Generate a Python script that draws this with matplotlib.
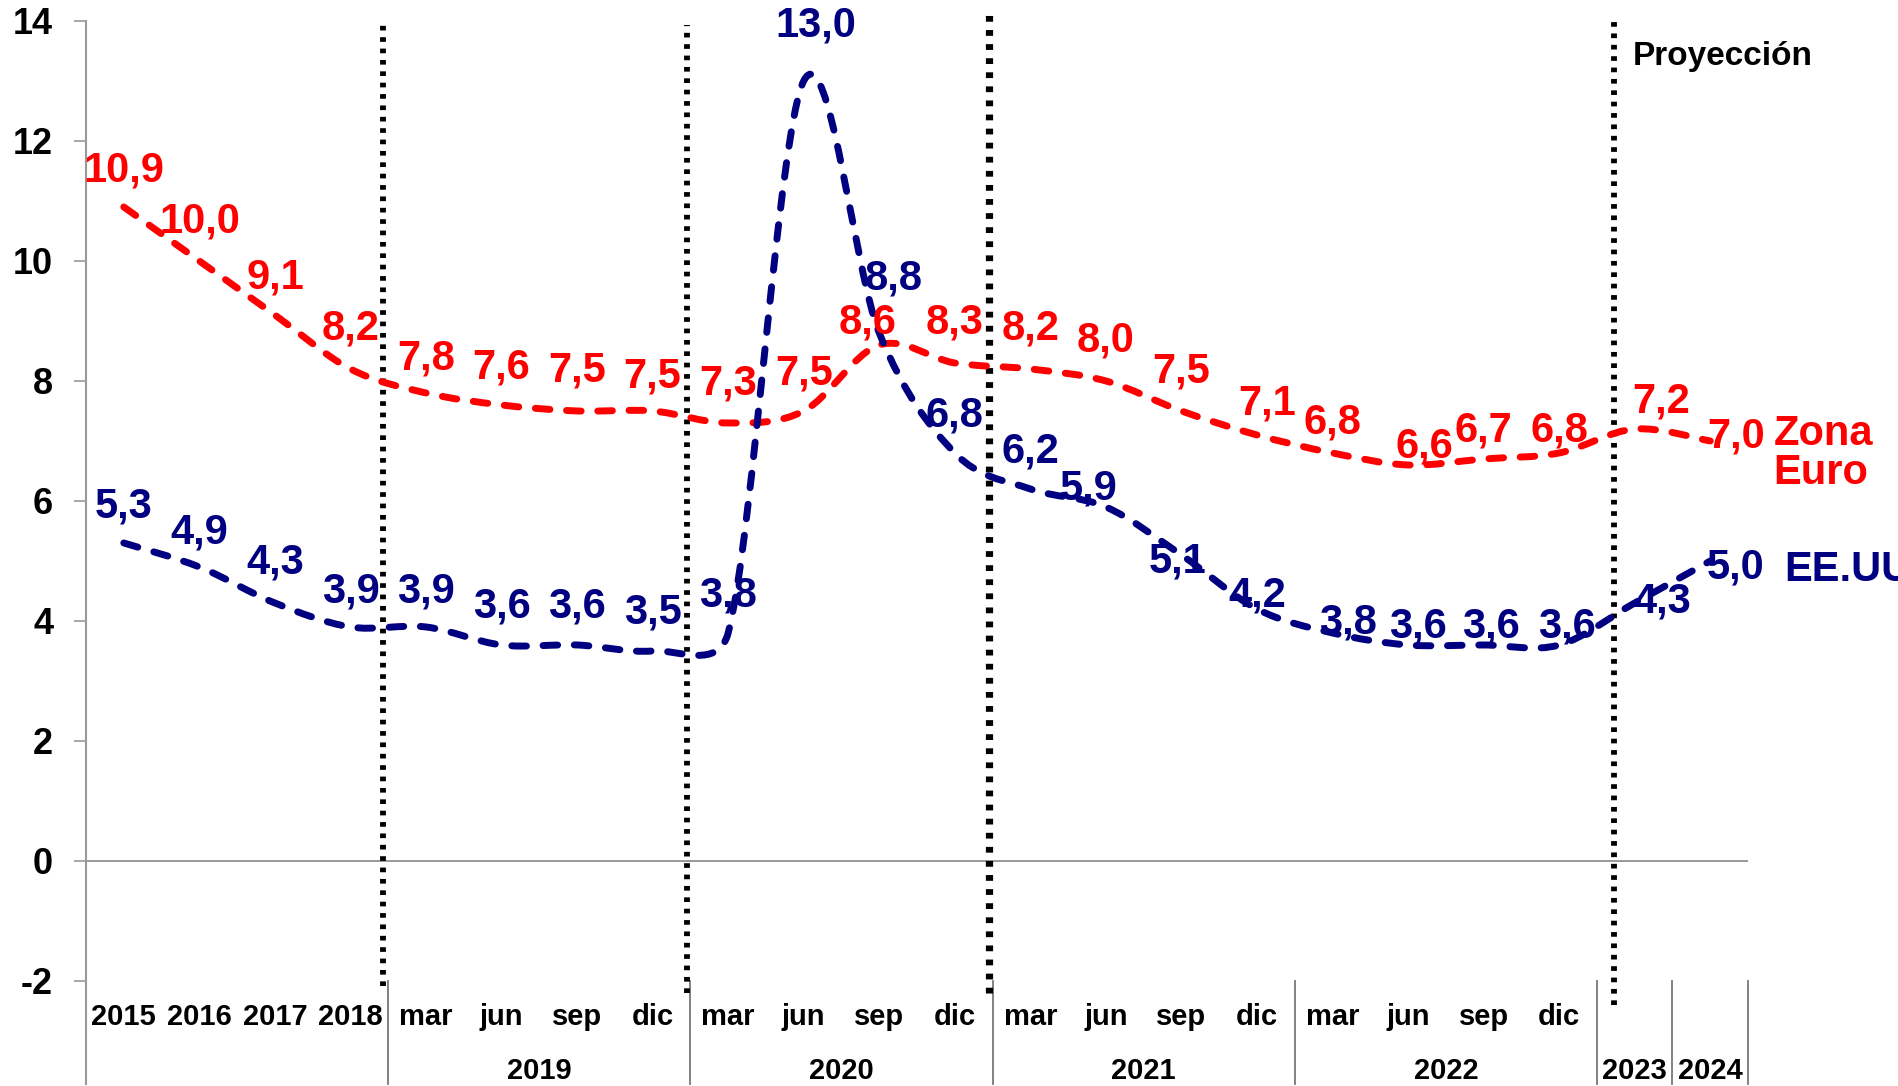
import matplotlib
matplotlib.use("Agg")
import matplotlib.pyplot as plt
import numpy as np
from matplotlib.path import Path
from matplotlib.patches import PathPatch

plt.rcParams["font.family"] = ["Liberation Sans", "DejaVu Sans"]
plt.rcParams["font.weight"] = "bold"
plt.rcParams["axes.unicode_minus"] = False

# categories: annual 2015-2018, quarters 2019-2022, annual 2023-2024
cat_labels = ["2015", "2016", "2017", "2018",
              "mar", "jun", "sep", "dic",
              "mar", "jun", "sep", "dic",
              "mar", "jun", "sep", "dic",
              "mar", "jun", "sep", "dic",
              "2023", "2024"]
group_labels = ["2019", "2020", "2021", "2022"]

euro = [10.9, 10.0, 9.1, 8.2, 7.8, 7.6, 7.5, 7.5, 7.3, 7.5, 8.6, 8.3,
        8.2, 8.0, 7.5, 7.1, 6.8, 6.6, 6.7, 6.8, 7.2, 7.0]
eeuu = [5.3, 4.9, 4.3, 3.9, 3.9, 3.6, 3.6, 3.5, 3.8, 13.0, 8.8, 6.8,
        6.2, 5.9, 5.1, 4.2, 3.8, 3.6, 3.6, 3.6, 4.3, 5.0]

# label offsets (data units) relative to each point
euro_dx = [0, 0, 0, 0, 0, 0, 0, 0, 0, 0, -0.16, 0, 0, 0, 0, 0.14, 0, 0.22, 0, 0, 0.35, 0.34]
euro_dy = [0.68, 0.73, 0.7, 0.75, 0.66, 0.7, 0.76, 0.66, 0.74, 0.7, 0.45, 0.75,
           0.75, 0.75, 0.74, 0.6, 0.59, 0.39, 0.55, 0.45, 0.54, 0.15]
eeuu_dx = [0, 0, 0, 0, 0, 0, 0, 0, 0, 0.16, 0.19, 0, 0, -0.23, -0.05, 0, 0.2, 0.13, 0.1, 0.1, 0.37, 0.33]
eeuu_dy = [0.68, 0.66, 0.75, 0.67, 0.67, 0.72, 0.72, 0.72, 0.7, 1.0, 0.98, 0.7,
           0.71, 0.38, -0.03, 0.3, 0.26, 0.38, 0.38, 0.38, 0.1, -0.03]

RED = "#FF0000"
NAVY = "#000080"


def smooth_path(ax, xs, ys):
    # Excel-style smoothed line: Bezier segments, control points worked out in screen space
    pts = ax.transData.transform(np.column_stack([xs, ys]).astype(float))
    n = len(pts)
    verts = [pts[0]]
    codes = [Path.MOVETO]
    for i in range(n - 1):
        p0 = pts[max(i - 1, 0)]
        p1 = pts[i]
        p2 = pts[i + 1]
        p3 = pts[min(i + 2, n - 1)]
        d12 = np.hypot(*(p2 - p1))
        d02 = np.hypot(*(p2 - p0))
        d13 = np.hypot(*(p3 - p1))
        f0 = 1 / 6.0
        f1 = 1 / 6.0
        if d02 / 6.0 >= d12 / 2.0:
            f0 = d12 / d02 / 2.0
        if d13 / 6.0 >= d12 / 2.0:
            f1 = d12 / d13 / 2.0
        c1 = p1 + (p2 - p0) * f0
        c2 = p2 - (p3 - p1) * f1
        verts += [c1, c2, p2]
        codes += [Path.CURVE4] * 3
    verts = ax.transData.inverted().transform(np.array(verts))
    return Path(verts, codes)


fig = plt.figure(figsize=(18.99, 10.86), dpi=100)
ax = fig.add_axes([0.0453, 0.0967, 0.8752, 0.884])
ax.set_xlim(-0.5, 21.5)
ax.set_ylim(-2, 14)

x = np.arange(len(cat_labels))

for vals, color in [(euro, RED), (eeuu, NAVY)]:
    patch = PathPatch(smooth_path(ax, x, vals), fill=False, edgecolor=color, lw=5,
                      linestyle=(0, (2.1, 2.4)), capstyle="round", zorder=3)
    ax.add_patch(patch)

for i, v in enumerate(euro):
    ax.text(x[i] + euro_dx[i], v + euro_dy[i] - 0.08, f"{v:.1f}".replace(".", ","),
            color=RED, fontsize=30, fontweight="bold", ha="center", va="center", zorder=4)
for i, v in enumerate(eeuu):
    ax.text(x[i] + eeuu_dx[i], v + eeuu_dy[i] - 0.08, f"{v:.1f}".replace(".", ","),
            color=NAVY, fontsize=30, fontweight="bold", ha="center", va="center", zorder=4)

ax.text(21.84, 7.12, "Zona", color=RED, fontsize=30, fontweight="bold", ha="left", va="center")
ax.text(21.84, 6.47, "Euro", color=RED, fontsize=30, fontweight="bold", ha="left", va="center")
ax.text(21.98, 4.85, "EE.UU", color=NAVY, fontsize=30, fontweight="bold", ha="left", va="center",
        clip_on=False)
ax.text(19.98, 13.4, "Proyección", color="black", fontsize=24, fontweight="bold", ha="left", va="center")

ax.set_yticks(np.arange(-2, 15, 2))
ax.tick_params(axis="y", length=8.6, width=1.2, color="#999999", labelsize=26, pad=15)
for lab in ax.get_yticklabels():
    lab.set_fontweight("bold")
ax.set_xticks([])
for s in ax.spines.values():
    s.set_visible(False)

ax.axhline(0, color="#888888", lw=1.2, zorder=2)

trans = ax.get_xaxis_transform()
# left axis line extending into the category area
ax.plot([-0.5, -0.5], [-0.107, 1.0], transform=trans, color="#999999", lw=1.5, clip_on=False)
# category separators
for sep in [3.5, 7.5, 11.5, 15.5, 19.5, 20.5, 21.5]:
    ax.plot([sep, sep], [0.0, -0.107], transform=trans, color="#777777", lw=1.3, clip_on=False)

# vertical dotted period markers
for xd, y0, y1, lw in [(3.43, -0.005, 1.0, 4.2), (7.45, -0.012, 0.996, 4.2),
                       (11.45, -0.012, 1.011, 5.2), (19.72, -0.025, 1.0, 4.2)]:
    ax.plot([xd, xd], [y0, y1], transform=trans, color="black", lw=lw,
            linestyle=(0, (0.8, 1.15)), solid_capstyle="butt", dash_capstyle="butt",
            clip_on=False, zorder=2)

for i, lab in enumerate(cat_labels):
    ypos = -0.094 if lab in ("2023", "2024") else -0.038
    ax.text(x[i], ypos, lab, transform=trans, ha="center", va="center",
            fontsize=21, fontweight="bold")
for g, lab in enumerate(group_labels):
    ax.text(5.5 + 4 * g, -0.094, lab, transform=trans, ha="center", va="center",
            fontsize=21, fontweight="bold")

fig.savefig("out.png", dpi=100)
